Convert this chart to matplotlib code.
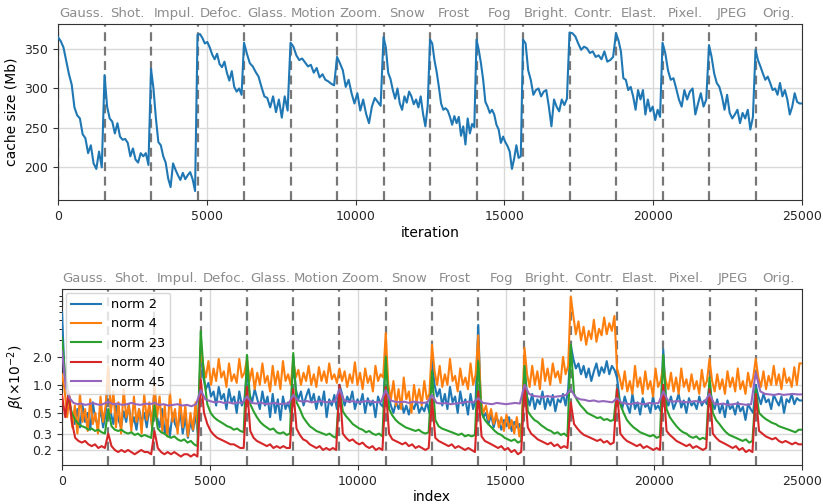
import numpy as np
import matplotlib.pyplot as plt
from matplotlib.ticker import NullFormatter
import matplotlib.transforms as mtransforms

plt.rcParams['font.size'] = 9

# domain names, one per block of 1562.5 iterations
domains = ['Gauss.', 'Shot.', 'Impul.', 'Defoc.', 'Glass.', 'Motion', 'Zoom.', 'Snow',
           'Frost', 'Fog', 'Bright.', 'Contr.', 'Elast.', 'Pixel.', 'JPEG', 'Orig.']
seg_len = 1562.5
total = 25000

# cache size (Mb), values read per domain block
cache = [
    [365, 360, 352, 335, 318, 305, 276, 266, 262, 242, 237, 218, 228, 205, 198, 220, 200],
    [317, 277, 262, 258, 243, 256, 239, 235, 236, 231, 214, 224, 210, 206, 218, 214, 218, 203],
    [325, 300, 262, 232, 228, 214, 206, 186, 175, 205, 197, 190, 184, 193, 185, 190, 194, 185, 170],
    [368, 369, 364, 357, 359, 352, 343, 337, 344, 331, 327, 334, 320, 310, 322, 302, 296, 300, 292],
    [358, 344, 332, 328, 321, 315, 302, 290, 288, 276, 290, 270, 286, 263, 290, 272],
    [358, 353, 342, 336, 338, 333, 328, 330, 320, 326, 314, 318, 311, 309, 306, 304],
    [340, 332, 323, 302, 311, 294, 281, 294, 272, 286, 268, 256, 277, 288, 283, 278],
    [365, 352, 320, 312, 298, 287, 300, 281, 273, 290, 282, 296, 290, 280, 286, 276, 290, 268, 252, 278],
    [362, 357, 336, 321, 302, 281, 273, 275, 272, 264, 254, 265, 256, 264, 240, 252, 229, 262, 243, 255, 251],
    [362, 349, 332, 311, 283, 277, 269, 273, 267, 254, 248, 231, 239, 232, 227, 220, 198, 211, 228, 212, 214],
    [362, 357, 323, 311, 292, 298, 300, 290, 296, 298, 277, 252, 286, 277, 271, 286, 279, 287],
    [371, 370, 366, 357, 349, 353, 351, 345, 347, 340, 342, 337, 347, 334, 336, 340],
    [370, 361, 347, 313, 311, 298, 302, 290, 273, 298, 286, 298, 267, 286, 271, 277, 260, 273, 264],
    [358, 345, 323, 311, 313, 300, 286, 277, 298, 286, 296, 300, 267, 281, 294, 277, 286],
    [355, 340, 319, 307, 302, 290, 273, 292, 269, 262, 267, 273, 256, 269, 262, 273, 248, 264],
    [349, 336, 328, 319, 311, 315, 307, 298, 300, 292, 307, 290, 298, 286, 267, 277, 294, 283, 281],
]

# beta (x1e-2) per norm layer, values read per domain block
norm2 = [
    [6.0, 1.3, 1.0, 0.6, 0.45, 0.38, 0.55, 0.35, 0.6, 0.4, 0.5, 0.33, 0.65, 0.42, 0.38, 0.55, 0.35, 0.48],
    [1.5, 0.5, 0.38, 0.6, 0.42, 0.35, 0.52, 0.4, 0.62, 0.36, 0.45, 0.33, 0.55, 0.4, 0.5, 0.35, 0.58, 0.38],
    [0.9, 0.45, 0.35, 0.55, 0.3, 0.42, 0.28, 0.5, 0.38, 0.33, 0.52, 0.3, 0.45, 0.27, 0.4, 0.32, 0.48, 0.28],
    [2.5, 1.2, 0.9, 1.05, 0.75, 0.85, 0.6, 0.95, 0.7, 0.8, 0.55, 0.9, 0.65, 0.75, 0.5, 0.85, 0.6, 0.7],
    [1.4, 0.8, 0.65, 0.9, 0.7, 0.55, 0.85, 0.6, 0.75, 0.45, 0.8, 0.5, 0.7, 0.42, 0.75, 0.55, 0.65, 0.5],
    [2.0, 0.9, 0.7, 0.85, 0.6, 0.75, 0.9, 0.65, 0.8, 0.55, 0.75, 0.6, 0.85, 0.45, 0.7, 0.6, 0.78, 0.55],
    [1.0, 0.8, 0.6, 0.75, 0.65, 0.85, 0.55, 0.7, 0.62, 0.8, 0.5, 0.72, 0.6, 0.68, 0.45, 0.75, 0.62, 0.58],
    [2.2, 0.8, 0.6, 0.5, 0.65, 0.55, 0.7, 0.5, 0.6, 0.48, 0.62, 0.55, 0.68, 0.5, 0.58, 0.52, 0.65, 0.5],
    [1.8, 1.0, 0.75, 0.9, 0.6, 0.8, 0.55, 0.95, 0.65, 0.75, 0.5, 0.85, 0.6, 0.7, 0.48, 0.8, 0.55, 0.7],
    [4.4, 0.6, 0.45, 0.5, 0.38, 0.48, 0.35, 0.45, 0.4, 0.33, 0.42, 0.36, 0.45, 0.32, 0.4, 0.35, 0.38, 0.3],
    [1.6, 0.75, 0.6, 0.8, 0.55, 0.7, 0.62, 0.85, 0.55, 0.72, 0.6, 0.78, 0.52, 0.7, 0.65, 0.8, 0.6, 0.9],
    [2.7, 1.9, 1.5, 1.7, 1.3, 1.6, 1.2, 1.5, 1.1, 1.4, 1.7, 1.25, 1.55, 1.35, 1.8, 1.3, 1.6, 1.45],
    [1.2, 0.7, 0.55, 0.75, 0.6, 0.5, 0.8, 0.55, 0.65, 0.48, 0.72, 0.58, 0.62, 0.5, 0.75, 0.55, 0.6, 0.52],
    [2.4, 0.7, 0.6, 0.75, 0.55, 0.65, 0.8, 0.57, 0.68, 0.5, 0.72, 0.6, 0.65, 0.55, 0.75, 0.6, 0.68, 0.62],
    [1.0, 0.65, 0.55, 0.7, 0.5, 0.62, 0.45, 0.68, 0.55, 0.6, 0.48, 0.65, 0.52, 0.58, 0.42, 0.62, 0.55, 0.5],
    [1.0, 0.75, 0.62, 0.8, 0.65, 0.7, 0.55, 0.78, 0.68, 0.6, 0.75, 0.5, 0.7, 0.65, 0.8, 0.62, 0.72, 0.68],
]
norm4 = [
    [1.3, 0.9, 0.45, 0.75, 0.35, 0.6, 0.3, 0.8, 0.4, 0.55, 0.32, 0.7, 0.38, 0.5, 0.3, 0.75, 0.4, 0.6],
    [1.6, 0.5, 0.85, 0.35, 0.65, 0.3, 0.9, 0.45, 0.6, 0.32, 0.75, 0.4, 0.55, 0.3, 0.8, 0.42, 0.65, 0.35],
    [1.0, 0.45, 0.75, 0.32, 0.6, 0.28, 0.85, 0.4, 0.55, 0.3, 0.7, 0.35, 0.6, 0.28, 0.5, 0.33, 0.65, 0.3],
    [2.5, 1.6, 1.2, 1.8, 1.0, 1.5, 1.1, 1.9, 1.2, 1.4, 0.95, 1.7, 1.1, 1.3, 1.05, 1.9, 1.2, 1.35],
    [1.9, 1.1, 1.5, 0.9, 1.35, 1.0, 1.7, 1.05, 1.25, 0.85, 1.6, 1.0, 1.4, 0.9, 1.8, 1.1, 1.3, 1.0],
    [1.8, 1.2, 1.45, 1.0, 1.35, 1.1, 1.6, 1.0, 1.3, 0.95, 1.55, 1.1, 1.4, 1.05, 1.7, 1.15, 1.3, 1.05],
    [1.5, 1.1, 1.4, 0.95, 1.3, 1.05, 1.75, 1.0, 1.35, 0.9, 1.5, 1.05, 1.25, 0.85, 1.6, 1.1, 1.3, 1.2],
    [3.6, 1.0, 0.7, 1.1, 0.6, 0.9, 0.55, 1.2, 0.7, 0.85, 0.5, 1.0, 0.65, 0.9, 0.6, 1.1, 0.7, 0.8],
    [2.7, 1.4, 1.0, 1.6, 0.95, 1.3, 1.0, 1.9, 1.1, 1.25, 0.85, 1.5, 1.0, 1.2, 0.9, 1.7, 1.0, 1.3],
    [3.4, 0.7, 0.5, 0.6, 0.42, 0.55, 0.38, 0.5, 0.35, 0.45, 0.32, 0.48, 0.34, 0.42, 0.3, 0.45, 0.28, 0.4],
    [2.5, 1.3, 0.95, 1.6, 1.0, 1.4, 0.9, 1.9, 1.1, 1.5, 1.0, 1.7, 1.2, 1.4, 1.05, 2.0, 1.3, 1.6],
    [8.9, 5.5, 3.5, 4.8, 3.0, 4.2, 2.7, 3.8, 3.1, 5.0, 2.9, 4.0, 3.4, 5.3, 3.5, 4.6, 3.8, 5.5],
    [1.5, 1.2, 0.9, 1.4, 0.85, 1.1, 0.8, 1.6, 0.95, 1.2, 0.8, 1.4, 0.9, 1.1, 0.75, 1.5, 0.95, 1.1],
    [1.6, 1.1, 0.9, 1.35, 0.85, 1.2, 0.8, 1.5, 0.95, 1.15, 0.85, 1.3, 0.9, 1.1, 0.8, 1.45, 0.95, 1.1],
    [1.9, 1.1, 0.85, 1.3, 0.9, 1.15, 0.8, 1.4, 0.95, 1.2, 0.85, 1.5, 0.9, 1.1, 0.8, 1.35, 0.95, 1.2],
    [1.9, 1.2, 0.95, 1.4, 0.9, 1.25, 1.0, 1.6, 1.0, 1.3, 0.9, 1.5, 1.05, 1.2, 0.95, 1.55, 1.0, 1.7],
]
norm23 = [
    [3.2, 1.2, 0.7, 0.5, 0.42, 0.38, 0.36, 0.35, 0.33, 0.34, 0.32, 0.33, 0.31, 0.30],
    [0.55, 0.36, 0.33, 0.32, 0.33, 0.31, 0.30, 0.31, 0.29, 0.30, 0.28, 0.29, 0.28, 0.27],
    [0.6, 0.34, 0.31, 0.30, 0.28, 0.27, 0.28, 0.26, 0.25, 0.26, 0.24, 0.25, 0.23, 0.22],
    [3.8, 1.2, 0.62, 0.5, 0.45, 0.42, 0.40, 0.38, 0.36, 0.35, 0.33, 0.34, 0.32, 0.31],
    [2.1, 0.62, 0.52, 0.45, 0.40, 0.37, 0.35, 0.33, 0.34, 0.31, 0.30, 0.31, 0.29, 0.30],
    [2.2, 0.65, 0.55, 0.45, 0.40, 0.36, 0.34, 0.32, 0.31, 0.30, 0.29, 0.30, 0.28, 0.27],
    [0.95, 0.52, 0.46, 0.42, 0.38, 0.36, 0.34, 0.33, 0.31, 0.32, 0.30, 0.29, 0.30, 0.28],
    [2.0, 0.55, 0.47, 0.42, 0.39, 0.37, 0.35, 0.34, 0.33, 0.32, 0.33, 0.31, 0.30, 0.31],
    [1.4, 0.42, 0.36, 0.34, 0.33, 0.32, 0.31, 0.30, 0.29, 0.30, 0.28, 0.29, 0.28, 0.29],
    [1.8, 0.50, 0.42, 0.38, 0.35, 0.32, 0.30, 0.29, 0.27, 0.26, 0.25, 0.26, 0.24, 0.25],
    [1.6, 0.52, 0.46, 0.42, 0.40, 0.37, 0.35, 0.33, 0.32, 0.30, 0.31, 0.29, 0.30, 0.28],
    [2.7, 0.80, 0.68, 0.60, 0.55, 0.50, 0.48, 0.46, 0.44, 0.45, 0.42, 0.43, 0.41, 0.42],
    [0.9, 0.62, 0.50, 0.42, 0.38, 0.35, 0.33, 0.31, 0.30, 0.29, 0.28, 0.29, 0.27, 0.28],
    [2.1, 0.55, 0.45, 0.40, 0.36, 0.33, 0.31, 0.30, 0.28, 0.27, 0.28, 0.26, 0.27, 0.26],
    [1.2, 0.50, 0.42, 0.38, 0.34, 0.31, 0.29, 0.28, 0.27, 0.26, 0.25, 0.26, 0.24, 0.25],
    [0.9, 0.50, 0.46, 0.43, 0.41, 0.39, 0.38, 0.36, 0.35, 0.34, 0.33, 0.32, 0.31, 0.33],
]
norm40 = [
    [0.78, 0.45, 0.85, 0.4, 0.27, 0.25, 0.24, 0.25, 0.23, 0.22, 0.23, 0.21, 0.22, 0.21],
    [0.30, 0.22, 0.20, 0.19, 0.20, 0.19, 0.20, 0.19, 0.18, 0.19, 0.20, 0.19, 0.19, 0.18],
    [0.32, 0.21, 0.19, 0.18, 0.19, 0.18, 0.19, 0.18, 0.17, 0.18, 0.18, 0.17, 0.18, 0.17],
    [1.15, 0.5, 0.38, 0.32, 0.29, 0.27, 0.26, 0.25, 0.24, 0.23, 0.23, 0.22, 0.21, 0.21],
    [0.95, 0.32, 0.27, 0.25, 0.24, 0.23, 0.22, 0.23, 0.21, 0.22, 0.21, 0.22, 0.21, 0.21],
    [0.9, 0.34, 0.29, 0.26, 0.25, 0.23, 0.22, 0.21, 0.22, 0.20, 0.21, 0.20, 0.21, 0.20],
    [1.0, 0.30, 0.27, 0.25, 0.26, 0.24, 0.23, 0.24, 0.22, 0.21, 0.22, 0.20, 0.21, 0.20],
    [0.95, 0.30, 0.26, 0.25, 0.24, 0.23, 0.24, 0.22, 0.23, 0.21, 0.22, 0.21, 0.20, 0.21],
    [0.7, 0.27, 0.25, 0.24, 0.23, 0.22, 0.23, 0.21, 0.22, 0.21, 0.20, 0.21, 0.20, 0.19],
    [0.85, 0.28, 0.25, 0.24, 0.23, 0.22, 0.21, 0.22, 0.20, 0.21, 0.19, 0.20, 0.18, 0.19],
    [1.0, 0.35, 0.30, 0.28, 0.26, 0.25, 0.24, 0.23, 0.24, 0.22, 0.23, 0.21, 0.22, 0.21],
    [0.65, 0.38, 0.34, 0.31, 0.29, 0.28, 0.27, 0.26, 0.25, 0.26, 0.24, 0.25, 0.23, 0.24],
    [0.9, 0.30, 0.27, 0.25, 0.24, 0.23, 0.22, 0.23, 0.21, 0.22, 0.21, 0.20, 0.21, 0.20],
    [1.0, 0.32, 0.29, 0.27, 0.25, 0.24, 0.23, 0.22, 0.23, 0.21, 0.22, 0.21, 0.20, 0.21],
    [0.9, 0.30, 0.27, 0.25, 0.24, 0.23, 0.22, 0.21, 0.22, 0.20, 0.21, 0.19, 0.20, 0.19],
    [0.8, 0.32, 0.30, 0.28, 0.27, 0.26, 0.27, 0.25, 0.24, 0.25, 0.24, 0.23, 0.24, 0.23],
]
norm45 = [
    [2.3, 0.95, 0.72, 0.64, 0.62, 0.63, 0.61, 0.62, 0.64, 0.62, 0.61, 0.63],
    [0.66, 0.62, 0.63, 0.61, 0.62, 0.64, 0.62, 0.61, 0.63, 0.62],
    [0.64, 0.61, 0.62, 0.60, 0.61, 0.62, 0.60, 0.61, 0.59, 0.62],
    [0.88, 0.70, 0.67, 0.65, 0.66, 0.64, 0.65, 0.63, 0.65, 0.64],
    [0.75, 0.64, 0.63, 0.65, 0.62, 0.63, 0.64, 0.62, 0.63, 0.63],
    [0.78, 0.68, 0.66, 0.67, 0.65, 0.66, 0.67, 0.65, 0.66, 0.66],
    [0.90, 0.68, 0.66, 0.67, 0.65, 0.66, 0.67, 0.66, 0.65, 0.66],
    [0.88, 0.68, 0.66, 0.65, 0.66, 0.64, 0.66, 0.65, 0.64, 0.65],
    [0.78, 0.64, 0.63, 0.64, 0.62, 0.63, 0.64, 0.65, 0.66, 0.65],
    [0.72, 0.64, 0.63, 0.62, 0.64, 0.63, 0.62, 0.63, 0.64, 0.63],
    [1.0, 0.80, 0.76, 0.75, 0.74, 0.76, 0.74, 0.75, 0.76, 0.78],
    [0.90, 0.74, 0.70, 0.69, 0.67, 0.68, 0.66, 0.67, 0.66, 0.65],
    [0.72, 0.64, 0.63, 0.62, 0.64, 0.63, 0.62, 0.64, 0.63, 0.64],
    [0.85, 0.68, 0.66, 0.67, 0.66, 0.65, 0.66, 0.67, 0.65, 0.66],
    [0.80, 0.63, 0.62, 0.63, 0.61, 0.62, 0.63, 0.62, 0.61, 0.62],
    [1.35, 0.85, 0.80, 0.79, 0.78, 0.80, 0.78, 0.79, 0.80, 0.79],
]

norms = [('norm 2', norm2), ('norm 4', norm4), ('norm 23', norm23),
         ('norm 40', norm40), ('norm 45', norm45)]


def flatten(blocks):
    # spread each block's values evenly over its domain
    xs, ys = [], []
    for k, vals in enumerate(blocks):
        n = len(vals)
        xs.extend(k * seg_len + np.arange(n) * seg_len / n)
        ys.extend(vals)
    xs.append(total)
    ys.append(blocks[-1][-1])
    return np.array(xs), np.array(ys)


def decorate(ax):
    for k in range(len(domains)):
        ax.axvline(k * seg_len, color='#777777', ls='--', lw=1.6, dashes=(4, 2.5), zorder=1.5)
    trans = mtransforms.blended_transform_factory(ax.transData, ax.transAxes)
    for k, name in enumerate(domains):
        ax.text((k + 0.5) * seg_len, 1.025, name, transform=trans, ha='center', va='bottom',
                color='#8c8c8c', fontsize=9.5)
    ax.grid(True, which='major', color='#d9d9d9', lw=1)
    ax.set_axisbelow(True)
    ax.set_xlim(0, total)
    ax.set_xticks([0, 5000, 10000, 15000, 20000, 25000])
    for s in ax.spines.values():
        s.set_color('#333333')
    ax.tick_params(colors='#333333', labelcolor='#262626')


fig = plt.figure(figsize=(8.23, 5.04), dpi=100)
ax1 = fig.add_axes([0.0705, 0.603, 0.904, 0.349])
ax2 = fig.add_axes([0.0753, 0.0774, 0.8992, 0.3492])

x, y = flatten(cache)
ax1.plot(x, y, color='tab:blue', lw=1.5, zorder=3)
decorate(ax1)
ax1.set_yticks([200, 250, 300, 350])
ax1.set_ylim(158.5, 381.5)
ax1.set_xlabel('iteration', fontsize=10, labelpad=2)
ax1.set_ylabel('cache size (Mb)', fontsize=10)

for label, blocks in norms:
    x, y = flatten(blocks)
    ax2.plot(x, y, lw=1.5, label=label, zorder=3)
decorate(ax2)
ax2.set_yscale('log')
ax2.set_ylim(0.138, 10.7)
ax2.set_yticks([0.2, 0.3, 0.5, 1.0, 2.0])
ax2.set_yticklabels(['0.2', '0.3', '0.5', '1.0', '2.0'])
ax2.yaxis.set_minor_formatter(NullFormatter())
ax2.set_xlabel('index', fontsize=10, labelpad=2)
ax2.set_ylabel(r'$\beta(\times 10^{-2})$', fontsize=10)
ax2.legend(loc='upper left', fontsize=9.3, framealpha=0.8, borderaxespad=0.3,
           handlelength=2.3)

fig.savefig('out.png', dpi=100)
